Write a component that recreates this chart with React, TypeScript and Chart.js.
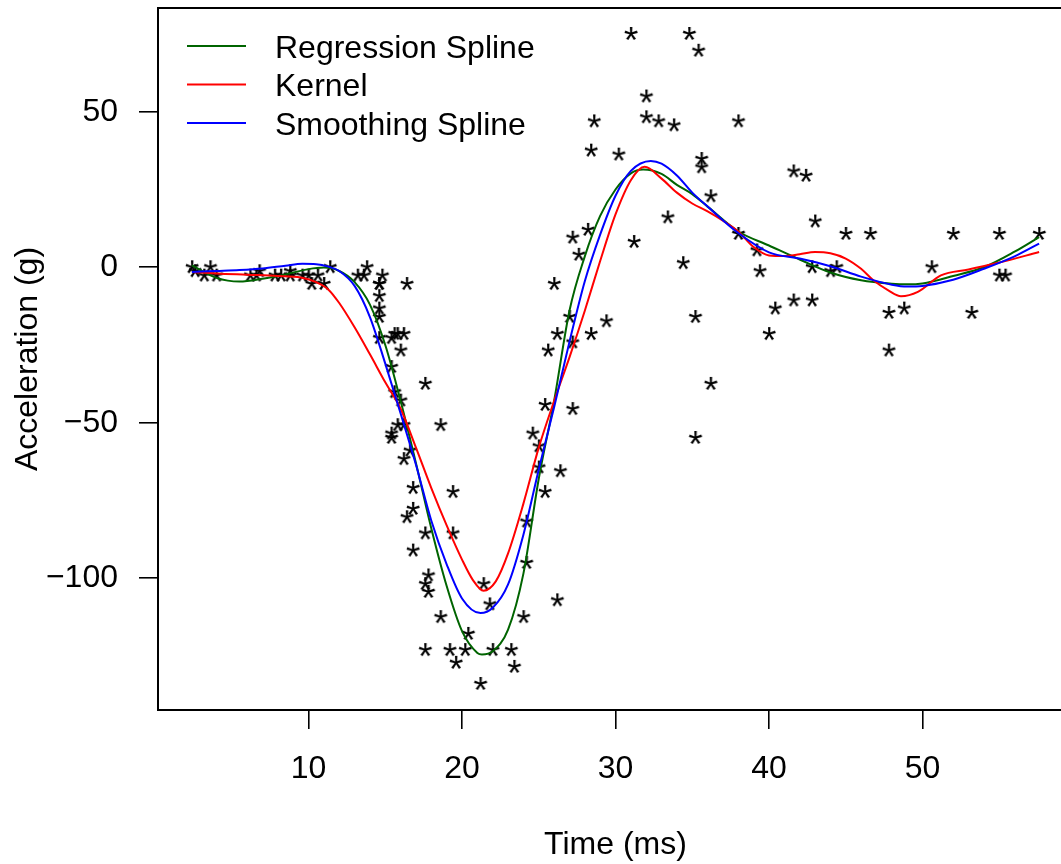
import React, { useEffect, useRef } from "react";
import { Chart, registerables } from "chart.js";

Chart.register(...registerables);

// mcycle data: time (ms) and head acceleration (g)
const TIMES = [
  2.4, 2.6, 3.2, 3.6, 4.0, 6.2, 6.6, 6.8, 7.8, 8.2, 8.8, 8.8, 9.6, 10.0, 10.2, 10.6, 11.0, 11.4, 13.2, 13.6,
  13.8, 14.6, 14.6, 14.6, 14.6, 14.6, 14.6, 14.8, 15.4, 15.4, 15.4, 15.4, 15.6, 15.6, 15.8, 15.8, 16.0, 16.0, 16.2, 16.2,
  16.2, 16.4, 16.4, 16.6, 16.8, 16.8, 16.8, 17.6, 17.6, 17.6, 17.6, 17.8, 17.8, 18.6, 18.6, 19.2, 19.4, 19.4, 19.6, 20.2,
  20.4, 21.2, 21.4, 21.8, 22.0, 23.2, 23.4, 24.0, 24.2, 24.2, 24.6, 25.0, 25.0, 25.4, 25.4, 25.6, 26.0, 26.2, 26.2, 26.4,
  27.0, 27.2, 27.2, 27.2, 27.6, 28.2, 28.4, 28.4, 28.6, 29.4, 30.2, 31.0, 31.2, 32.0, 32.0, 32.8, 33.4, 33.8, 34.4, 34.8,
  35.2, 35.2, 35.4, 35.6, 35.6, 36.2, 36.2, 38.0, 38.0, 39.2, 39.4, 40.0, 40.4, 41.6, 41.6, 42.4, 42.8, 42.8, 43.0, 44.0,
  44.4, 45.0, 46.6, 47.8, 47.8, 48.8, 50.6, 52.0, 53.2, 55.0, 55.0, 55.4, 57.6,
];
const ACCEL = [
  0.0, -1.3, -2.7, 0.0, -2.7, -2.7, -2.7, -1.3, -2.7, -2.7, -1.3, -2.7, -2.7, -2.7, -5.4, -2.7, -5.4, 0.0, -2.7, -2.7,
  0.0, -13.3, -5.4, -5.4, -9.3, -16.0, -22.8, -2.7, -22.8, -32.1, -53.5, -54.9, -40.2, -21.5, -21.5, -50.8, -42.9, -26.8, -21.5, -50.8,
  -61.7, -5.4, -80.4, -59.0, -71.0, -91.1, -77.7, -37.5, -85.6, -123.1, -101.9, -99.1, -104.4, -112.5, -50.8, -123.1, -85.6, -72.3, -127.2, -123.1,
  -117.9, -134.0, -101.9, -108.4, -123.1, -123.1, -128.5, -112.5, -95.1, -81.8, -53.5, -64.4, -57.6, -72.3, -44.3, -26.8, -5.4, -107.1, -21.5, -65.6,
  -16.0, -45.6, -24.2, 9.5, 4.0, 12.0, -21.5, 37.5, 46.9, -17.4, 36.2, 75.0, 8.1, 54.9, 48.2, 46.9, 16.0, 45.6, 1.3, 75.0,
  -16.0, -54.9, 69.6, 34.8, 32.1, -37.5, 22.8, 46.9, 10.7, 5.4, -1.3, -21.5, -13.3, 30.8, -10.7, 29.4, 0.0, -10.7, 14.7, -1.3,
  0.0, 10.7, 10.7, -26.8, -14.7, -13.3, 0.0, 10.7, -14.7, -2.7, 10.7, -2.7, 10.7,
];

// Regression spline (green)
const REG_T = [2.4, 4, 5.5, 7, 8.5, 10, 11, 12, 13, 14, 15, 16, 17, 18, 19, 20, 21, 21.3, 22, 23, 24, 25, 26, 27, 28, 29, 30, 31, 31.8, 33, 34, 35, 36, 38, 40, 42, 44, 46, 48, 49, 50, 52, 54, 56, 57.6];
const REG_Y = [0.6, -3.4, -4.6, -3.7, -2.3, -0.6, -0.1, -1.2, -4.8, -12, -25, -43, -63, -84, -102.5, -117, -124, -124.5, -123.5, -116.5, -98.5, -68, -43, -14, 3.5, 16.5, 25, 30.2, 31.4, 30, 26.5, 23.5, 19.5, 11.5, 7, 2.5, -1.7, -4.2, -5.3, -5.5, -5.2, -2.8, 0, 5, 9.7];

// Kernel smoother (red)
const KER_T = [2.4, 4, 6, 8, 9.5, 10.5, 11.3, 12, 13, 14, 15, 16, 17, 18, 19, 20, 20.7, 21.4, 22.2, 23, 24, 25, 26, 27, 28, 29, 30, 31, 31.9, 33, 34, 35, 36, 37, 38, 39, 40, 41, 42, 43, 44, 45, 46, 46.8, 47.8, 48.6, 49.7, 51.2, 53, 55, 57.6];
const KER_Y = [-1.5, -2, -2.4, -2.8, -3.3, -4.8, -7.2, -11.5, -19.3, -28, -37, -45.5, -58, -71, -83, -94, -100.5, -104, -101, -92, -76, -58, -43, -29, -14, 2, 17, 28, 32.3, 28.5, 24, 20.5, 18, 15, 11.5, 6.5, 3.8, 3.6, 4.2, 4.9, 4.5, 2.8, -0.5, -4.2, -7.5, -9.3, -7.9, -2.6, -0.7, 1.5, 4.9];

// Smoothing spline (blue)
const SMO_T = [2.4, 4, 5.5, 7, 8.5, 9.6, 10.5, 11.3, 12, 13, 14, 15, 16, 17, 18, 19, 20, 21.2, 22, 23, 24, 25, 26, 27, 28, 29, 30, 31, 32.3, 33, 34, 35, 36, 38, 40, 42, 44, 46, 48, 49, 50, 52, 54, 56, 57.6];
const SMO_Y = [-1.5, -1.2, -0.9, -0.4, 0.5, 1.1, 1.0, 0.2, -1.2, -6, -16, -31, -47, -63.5, -81.5, -95.5, -106.5, -111.2, -109.5, -102, -86, -65, -45, -24, -4.5, 10.5, 23, 31, 34.2, 33.3, 29.5, 24, 19.5, 11, 4.8, 2.8, 0.3, -3, -5.6, -6.2, -6, -4, -0.5, 3.5, 7.6];

const X_TICKS = [10, 20, 30, 40, 50];
const Y_TICKS = [-100, -50, 0, 50];
const X_TITLE = "Time (ms)";
const Y_TITLE = "Acceleration (g)";
const LEGEND_LABELS = ["Regression Spline", "Kernel", "Smoothing Spline"];
const LEGEND_COLORS = ["#006400", "#FF0000", "#0000FF"];

const FONT_FAMILY = "'Liberation Sans', Arial, Helvetica, sans-serif";
const FONT_SIZE = 32;
const STAR_SIZE = 37;

function pad4(arr: number[]) {
  const lo = Math.min(...arr);
  const hi = Math.max(...arr);
  const r = hi - lo;
  return [lo - 0.04 * r, hi + 0.04 * r];
}

function makeAsterisk(): HTMLCanvasElement {
  const c = document.createElement("canvas");
  c.width = 30;
  c.height = 30;
  const ctx = c.getContext("2d")!;
  ctx.font = `${STAR_SIZE}px ${FONT_FAMILY}`;
  ctx.fillStyle = "#000";
  ctx.textAlign = "center";
  ctx.textBaseline = "alphabetic";
  const m = ctx.measureText("*");
  const asc = m.actualBoundingBoxAscent;
  const desc = m.actualBoundingBoxDescent;
  const l = m.actualBoundingBoxLeft;
  const r = m.actualBoundingBoxRight;
  ctx.fillText("*", 15 + (l - r) / 2, 15 + (asc - desc) / 2);
  return c;
}

const framePlugin = {
  id: "rframe",
  beforeDatasetsDraw(chart: any) {
    const { ctx, chartArea } = chart;
    ctx.save();
    ctx.strokeStyle = "#000";
    ctx.lineWidth = 2;
    ctx.strokeRect(chartArea.left, chartArea.top, chartArea.right - chartArea.left, chartArea.bottom - chartArea.top);
    ctx.restore();
  },
};

const legendPlugin = {
  id: "rlegend",
  afterDraw(chart: any) {
    const { ctx, chartArea } = chart;
    ctx.save();
    ctx.font = `${FONT_SIZE}px ${FONT_FAMILY}`;
    ctx.textAlign = "left";
    ctx.textBaseline = "alphabetic";
    const x0 = chartArea.left + 29;
    const y0 = chartArea.top + 38;
    LEGEND_LABELS.forEach((lab, i) => {
      const y = y0 + i * 38.5;
      ctx.strokeStyle = LEGEND_COLORS[i];
      ctx.lineWidth = 2;
      ctx.beginPath();
      ctx.moveTo(x0, y);
      ctx.lineTo(x0 + 59, y);
      ctx.stroke();
      ctx.fillStyle = "#000";
      ctx.fillText(lab, x0 + 88, y + 11.5);
    });
    ctx.restore();
  },
};

export default function App() {
  const ref = useRef<HTMLCanvasElement>(null);

  useEffect(() => {
    if (!ref.current) return;
    const star = makeAsterisk();
    const [xmin, xmax] = pad4(TIMES);
    const [ymin, ymax] = pad4(ACCEL);
    const font = { family: FONT_FAMILY, size: FONT_SIZE };
    const lineDs = (label: string, t: number[], y: number[], color: string, order: number) => ({
      label,
      data: t.map((v, i) => ({ x: v, y: y[i] })),
      showLine: true,
      borderColor: color,
      backgroundColor: color,
      borderWidth: 2,
      pointRadius: 0,
      cubicInterpolationMode: "monotone" as const,
      order,
    });
    const chart = new Chart(ref.current, {
      type: "scatter",
      data: {
        datasets: [
          lineDs(LEGEND_LABELS[2], SMO_T, SMO_Y, LEGEND_COLORS[2], 1),
          lineDs(LEGEND_LABELS[1], KER_T, KER_Y, LEGEND_COLORS[1], 2),
          lineDs(LEGEND_LABELS[0], REG_T, REG_Y, LEGEND_COLORS[0], 3),
          {
            label: "data",
            data: TIMES.map((v, i) => ({ x: v, y: ACCEL[i] })),
            pointStyle: star as any,
            pointRadius: 7,
            showLine: false,
            order: 10,
          },
        ],
      },
      options: {
        responsive: false,
        devicePixelRatio: 1,
        animation: false,
        events: [],
        layout: { padding: { top: 8, right: 27, left: 0, bottom: 0 } },
        plugins: { legend: { display: false }, tooltip: { enabled: false } },
        scales: {
          x: {
            type: "linear",
            position: "bottom",
            min: xmin,
            max: xmax,
            afterBuildTicks: (s: any) => {
              s.ticks = X_TICKS.map((v) => ({ value: v }));
            },
            afterFit: (s: any) => {
              s.height = 154;
              s.paddingLeft = 0;
              s.paddingRight = 0;
            },
            ticks: { font, color: "#000", padding: 21, maxRotation: 0, autoSkip: false },
            grid: { display: true, drawOnChartArea: false, drawTicks: true, tickLength: 19, color: "#000", lineWidth: 1.6 },
            border: { display: false },
            title: { display: true, text: X_TITLE, font, color: "#000", padding: { top: 0, bottom: 0 } },
          },
          y: {
            type: "linear",
            position: "left",
            min: ymin,
            max: ymax,
            afterBuildTicks: (s: any) => {
              s.ticks = Y_TICKS.map((v) => ({ value: v }));
            },
            afterFit: (s: any) => {
              s.width = 158;
              s.paddingTop = 0;
              s.paddingBottom = 0;
            },
            ticks: {
              font,
              color: "#000",
              padding: 21,
              autoSkip: false,
              callback: (v: any) => (Number(v) < 0 ? "\u2212" + Math.abs(Number(v)) : String(v)),
            },
            grid: { display: true, drawOnChartArea: false, drawTicks: true, tickLength: 19, color: "#000", lineWidth: 1.6 },
            border: { display: false },
            title: { display: true, text: Y_TITLE, font, color: "#000", padding: { top: 9, bottom: 0 } },
          },
        },
      },
      plugins: [framePlugin, legendPlugin],
    });
    return () => chart.destroy();
  }, []);

  return (
    <div
      style={{
        position: "absolute",
        left: 0,
        top: 0,
        width: 1061,
        height: 864,
        overflow: "hidden",
        background: "#fff",
      }}
    >
      <canvas ref={ref} width={1100} height={864} style={{ display: "block", width: 1100, height: 864 }} />
    </div>
  );
}
